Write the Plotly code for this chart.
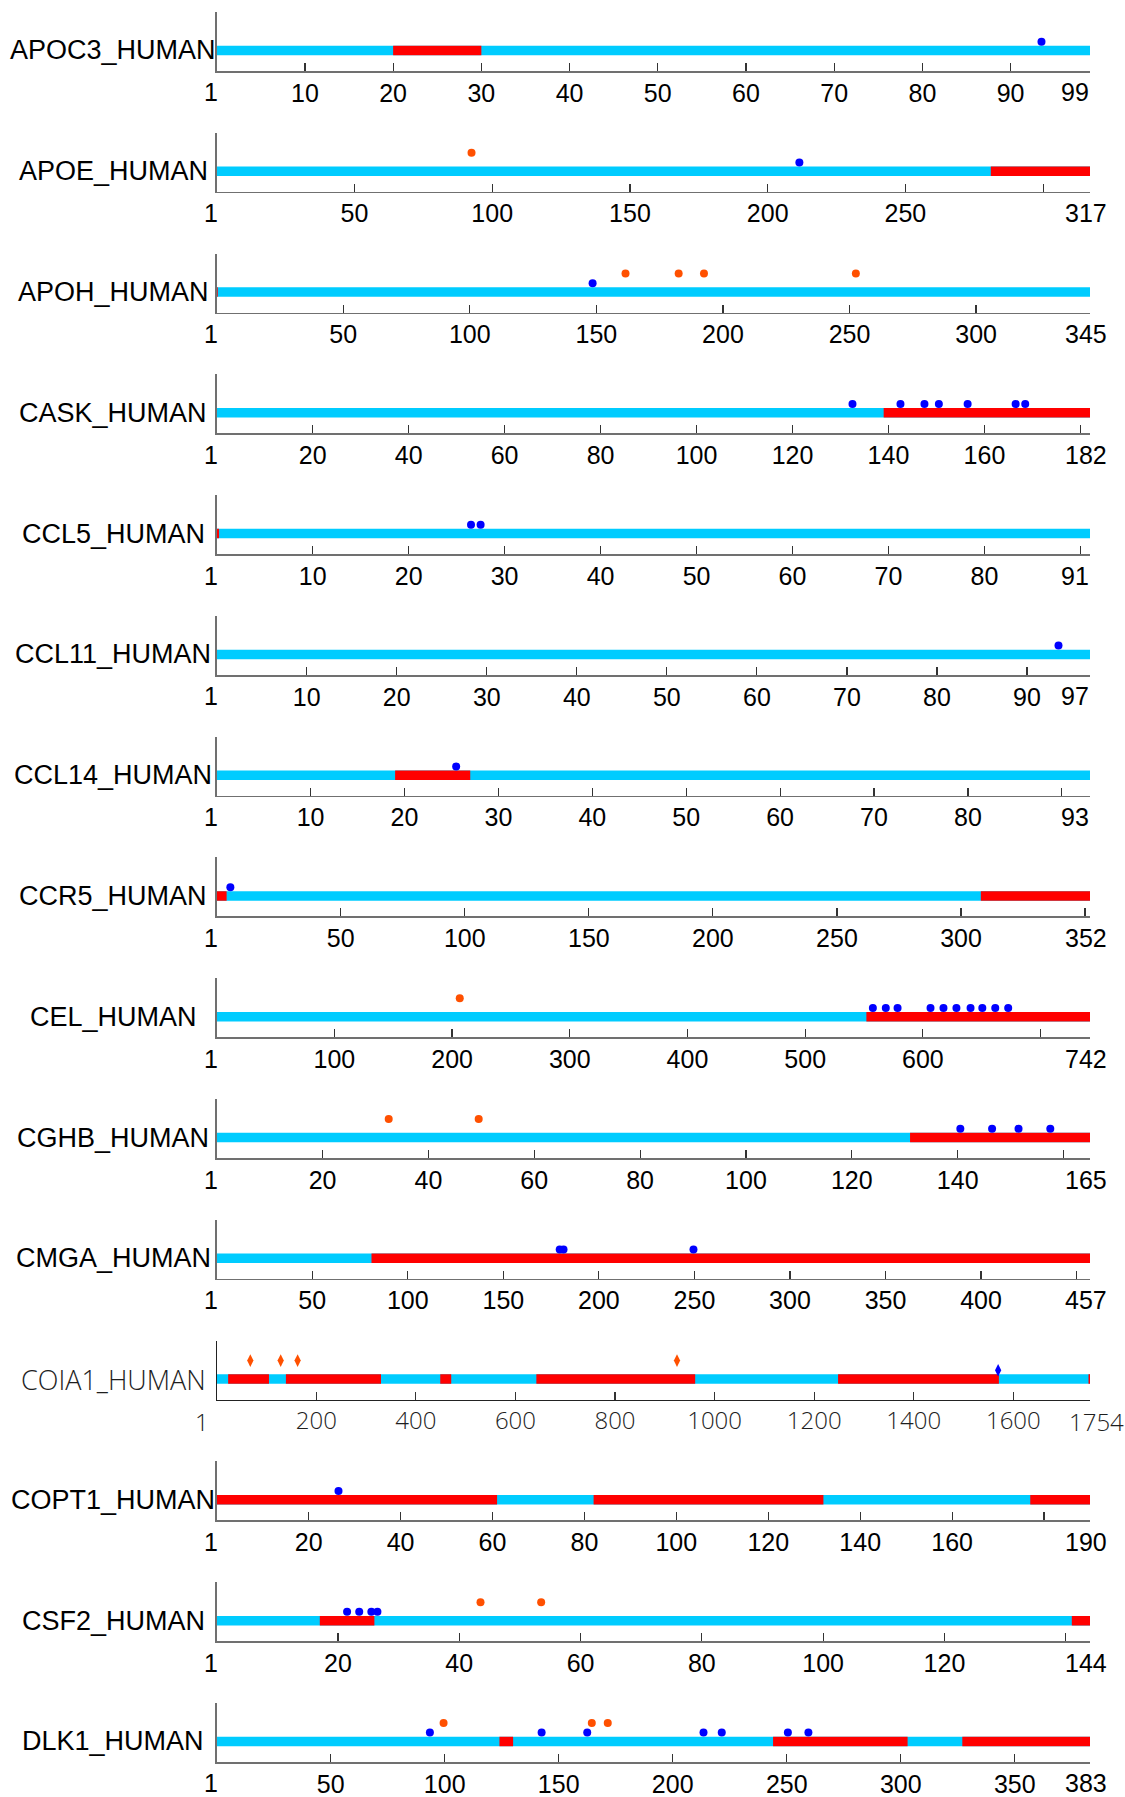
import plotly.graph_objects as go

# ---------------- data ----------------
names = ["APOC3_HUMAN", "APOE_HUMAN", "APOH_HUMAN", "CASK_HUMAN", "CCL5_HUMAN",
         "CCL11_HUMAN", "CCL14_HUMAN", "CCR5_HUMAN", "CEL_HUMAN", "CGHB_HUMAN",
         "CMGA_HUMAN", "COIA1_HUMAN", "COPT1_HUMAN", "CSF2_HUMAN", "DLK1_HUMAN"]
lengths = [99, 317, 345, 182, 91, 97, 93, 352, 742, 165, 457, 1754, 190, 144, 383]

# red regions as [start, end] on the sequence scale
red_regions = [
    [[20, 30]],
    [[281, 317]],
    [[0, 0.4]],
    [[139, 182]],
    [[0, 0.25]],
    [],
    [[19, 27]],
    [[0, 4], [308, 352]],
    [[552, 742]],
    [[131, 165]],
    [[81, 457]],
    [[23, 105], [139, 330], [449, 471], [642, 961], [1248, 1571], [1751, 1754]],
    [[0, 61], [82, 132], [177, 190]],
    [[17, 26], [141, 144]],
    [[124, 130], [244, 303], [327, 383]],
]
# site residues (blue = lower row, orange = upper row)
blue_sites = [
    [94], [212], [149], [133, 143, 148, 151, 157, 167, 169], [27, 28], [94], [26], [6],
    [558, 569, 579, 607, 618, 629, 641, 651, 662, 673], [141, 147, 152, 158],
    [180, 182, 250], [1570], [27], [22, 24, 26, 27], [94, 143, 163, 214, 222, 251, 260],
]
orange_sites = [
    [], [93], [162, 183, 193, 253], [], [], [], [], [], [207], [33, 50], [],
    [68, 129, 163, 925], [], [44, 54], [100, 165, 172],
]
tick_vals = [
    [10, 20, 30, 40, 50, 60, 70, 80, 90],
    [50, 100, 150, 200, 250, 300],
    [50, 100, 150, 200, 250, 300],
    [20, 40, 60, 80, 100, 120, 140, 160, 180],
    [10, 20, 30, 40, 50, 60, 70, 80, 90],
    [10, 20, 30, 40, 50, 60, 70, 80, 90],
    [10, 20, 30, 40, 50, 60, 70, 80, 90],
    [50, 100, 150, 200, 250, 300, 350],
    [100, 200, 300, 400, 500, 600, 700],
    [20, 40, 60, 80, 100, 120, 140, 160],
    [50, 100, 150, 200, 250, 300, 350, 400, 450],
    [200, 400, 600, 800, 1000, 1200, 1400, 1600],
    [20, 40, 60, 80, 100, 120, 140, 160, 180],
    [20, 40, 60, 80, 100, 120, 140],
    [50, 100, 150, 200, 250, 300, 350],
]
tick_labels = [
    ["10", "20", "30", "40", "50", "60", "70", "80", "90"],
    ["50", "100", "150", "200", "250", ""],
    ["50", "100", "150", "200", "250", "300"],
    ["20", "40", "60", "80", "100", "120", "140", "160", ""],
    ["10", "20", "30", "40", "50", "60", "70", "80", ""],
    ["10", "20", "30", "40", "50", "60", "70", "80", "90"],
    ["10", "20", "30", "40", "50", "60", "70", "80", ""],
    ["50", "100", "150", "200", "250", "300", ""],
    ["100", "200", "300", "400", "500", "600", ""],
    ["20", "40", "60", "80", "100", "120", "140", ""],
    ["50", "100", "150", "200", "250", "300", "350", "400", ""],
    ["200", "400", "600", "800", "1000", "1200", "1400", "1600"],
    ["20", "40", "60", "80", "100", "120", "140", "160", ""],
    ["20", "40", "60", "80", "100", "120", ""],
    ["50", "100", "150", "200", "250", "300", "350"],
]
light_panel = "COIA1_HUMAN"

# ---------------- style ----------------
W, H = 1125, 1797
X0, X1 = 216.7, 1090.0          # axis pixel extent
BASE0, STEP = 71.0, 120.78      # baseline of first panel, panel spacing
PANEL_H = 59.0                  # y-axis height in px (1 unit = 1 px)
BAR_Y, BAR_W = 20.5, 9.5
BLUE_Y, ORANGE_Y = 29.3, 39.0
LABEL_DY = 21.5                 # px below baseline for end labels
CYAN, RED, BLUE, ORANGE = "#00CCFF", "#FF0000", "#0000FF", "#FF5000"
FONT = "Liberation Sans, Arial, sans-serif"
LIGHT_FONT = "Open Sans, Liberation Sans, sans-serif"

fig = go.Figure()
layout = dict(width=W, height=H, margin=dict(l=0, r=0, t=0, b=0),
              paper_bgcolor="white", plot_bgcolor="white",
              barmode="overlay", showlegend=False, hovermode=False)
annotations = []

for i, name in enumerate(names):
    n = i + 1
    L = lengths[i]
    light = (name == light_panel)
    xa = "x" if n == 1 else f"x{n}"
    ya = "y" if n == 1 else f"y{n}"
    base_px = BASE0 + i * STEP
    y0 = 1 - base_px / H
    y1 = 1 - (base_px - PANEL_H) / H
    axcol = "#222222" if light else "#707070"
    txtcol = "#1e1e1e" if light else "black"
    if light:
        font = dict(family=LIGHT_FONT, size=24, color=txtcol, weight=300)
        name_font = dict(family=LIGHT_FONT, size=27, color=txtcol, weight=300)
    else:
        font = dict(family=FONT, size=25, color=txtcol)
        name_font = dict(family=FONT, size=27, color=txtcol)

    # full cyan bar
    fig.add_trace(go.Bar(x=[L], base=[0], y=[BAR_Y], orientation="h", width=BAR_W,
                         marker=dict(color=CYAN, line=dict(width=0)),
                         xaxis=xa, yaxis=ya))
    for s, e in red_regions[i]:
        fig.add_trace(go.Bar(x=[e - s], base=[s], y=[BAR_Y], orientation="h", width=BAR_W,
                             marker=dict(color=RED, line=dict(width=0)),
                             xaxis=xa, yaxis=ya))
    sym = "diamond-tall" if light else "circle"
    msize = 9 if light else 8
    if blue_sites[i]:
        fig.add_trace(go.Scatter(x=[r - 0.5 for r in blue_sites[i]], y=[BLUE_Y] * len(blue_sites[i]),
                                 mode="markers", marker=dict(color=BLUE, size=msize, symbol=sym, line=dict(width=0)),
                                 xaxis=xa, yaxis=ya, cliponaxis=False))
    if orange_sites[i]:
        fig.add_trace(go.Scatter(x=[r - 0.5 for r in orange_sites[i]], y=[ORANGE_Y] * len(orange_sites[i]),
                                 mode="markers", marker=dict(color=ORANGE, size=msize, symbol=sym, line=dict(width=0)),
                                 xaxis=xa, yaxis=ya, cliponaxis=False))

    xkey = "xaxis" if n == 1 else f"xaxis{n}"
    ykey = "yaxis" if n == 1 else f"yaxis{n}"
    layout[xkey] = dict(domain=[X0 / W, X1 / W], range=[0, L], anchor=ya,
                        showline=True, linecolor=axcol, linewidth=1.6 if not light else 1.2,
                        ticks="inside", ticklen=8, tickwidth=1.2, tickcolor="#333333",
                        tickvals=tick_vals[i], ticktext=tick_labels[i], tickfont=font,
                        ticklabelstandoff=-1,
                        showgrid=False, zeroline=False, fixedrange=True)
    layout[ykey] = dict(domain=[y0, y1], range=[0, PANEL_H], anchor=xa,
                        showline=True, linecolor=axcol, linewidth=1.6 if not light else 1.2,
                        showticklabels=False, ticks="", showgrid=False, zeroline=False,
                        fixedrange=True)

    # protein name
    annotations.append(dict(text=name, xref="paper", yref=ya, x=113 / W, y=BAR_Y,
                            xanchor="center", yanchor="middle", showarrow=False,
                            font=name_font))
    # end labels "1" and length
    ylab = 1 - (base_px + LABEL_DY) / H
    annotations.append(dict(text="1", xref=xa, yref="paper", x=0, y=ylab,
                            xanchor="right", yanchor="middle", xshift=-6 if light else 3,
                            showarrow=False, font=font))
    nd = len(str(L))
    annotations.append(dict(text=str(L), xref=xa, yref="paper", x=L, y=ylab,
                            xanchor="center", yanchor="middle", xshift=-15.5 + 11 * (nd - 2),
                            showarrow=False, font=font))

layout["annotations"] = annotations
fig.update_layout(**layout)
fig.write_html("out.html", config={"displayModeBar": False, "staticPlot": True},
               post_script="document.body.style.margin='0';document.body.style.overflow='hidden';")
